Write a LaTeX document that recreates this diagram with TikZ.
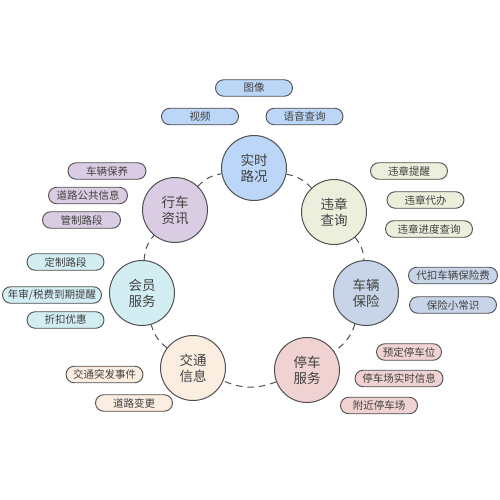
\documentclass[tikz,border=0pt]{standalone}
\usepackage{fontspec}
\setmainfont{Noto Sans CJK SC}
\usetikzlibrary{shapes.misc}
\definecolor{cblue}{HTML}{BBD6F6}
\definecolor{cgreen}{HTML}{EDEFDD}
\definecolor{cslate}{HTML}{C8D5E8}
\definecolor{cpink}{HTML}{F1D2D2}
\definecolor{ccream}{HTML}{FCEDE1}
\definecolor{ccyan}{HTML}{D3EEF3}
\definecolor{clav}{HTML}{DACDE3}
\definecolor{cline}{HTML}{505050}
\definecolor{ctext}{HTML}{404040}
\tikzset{
  hub/.style={circle, draw=cline, line width=1pt, minimum size=65pt, inner sep=0pt,
    align=center, text=ctext, font=\fontsize{13.5}{16}\selectfont},
  pill/.style={rounded rectangle, draw=cline, line width=0.9pt, minimum height=16.5pt,
    inner sep=1pt, text=ctext, font=\fontsize{10.5}{12}\selectfont},
  ring/.style={draw=cline, line width=1pt, dash pattern=on 6.5pt off 5pt},
}
\begin{document}
\begin{tikzpicture}[x=1pt,y=-1pt]
\useasboundingbox (0,0) rectangle (500,500);
\fill[white] (0,0) rectangle (500,500);
% hubs
\node[hub, fill=cblue]  (A) at (254,168) {实时\\路况};
\node[hub, fill=cgreen] (B) at (334,212) {违章\\查询};
\node[hub, fill=cslate] (C) at (366,293) {车辆\\保险};
\node[hub, fill=cpink]  (D) at (307,370) {停车\\服务};
\node[hub, fill=ccream] (E) at (193,368) {交通\\信息};
\node[hub, fill=ccyan]  (F) at (142,293) {会员\\服务};
\node[hub, fill=clav]   (G) at (175,210) {行车\\资讯};
% ring connectors
\draw[ring] (A) to[bend left=18] (B);
\draw[ring] (B) to[bend left=18] (C);
\draw[ring] (C) to[bend left=18] (D);
\draw[ring] (D) to[bend left=22] (E);
\draw[ring] (E) to[bend left=18] (F);
\draw[ring] (F) to[bend left=18] (G);
\draw[ring] (G) to[bend left=18] (A);
% top pills
\node[pill, fill=cblue, minimum width=79pt] (a1) at (254,88) {图像};
\node[pill, fill=cblue, minimum width=79pt] (a2) at (200,116.5) {视频};
\node[pill, fill=cblue, minimum width=79pt] (a3) at (304.5,116.5) {语音查询};
% right pills
\node[pill, fill=cgreen, minimum width=79pt] (b1) at (409,171) {违章提醒};
\node[pill, fill=cgreen, minimum width=79pt] (b2) at (425.5,200) {违章代办};
\node[pill, fill=cgreen, minimum width=89pt] (b3) at (429,229) {违章进度查询};
\node[pill, fill=cslate, minimum width=91pt] (c1) at (453,275.5) {代扣车辆保险费};
\node[pill, fill=cslate, minimum width=89pt] (c2) at (453,305) {保险小常识};
% bottom right pills
\node[pill, fill=cpink, minimum width=67pt] (d1) at (409,352) {预定停车位};
\node[pill, fill=cpink, minimum width=90pt] (d2) at (399,378.5) {停车场实时信息};
\node[pill, fill=cpink, minimum width=79pt] (d3) at (379,405.5) {附近停车场};
% bottom left pills
\node[pill, fill=ccream, minimum width=79pt] (e1) at (104.5,374.5) {交通突发事件};
\node[pill, fill=ccream, minimum width=79pt] (e2) at (134,403) {道路变更};
% left pills
\node[pill, fill=ccyan, minimum width=79pt] (f1) at (65.5,262) {定制路段};
\node[pill, fill=ccyan, minimum width=101pt] (f2) at (52,295) {年审/税费到期提醒};
\node[pill, fill=ccyan, minimum width=79pt] (f3) at (65.5,320) {折扣优惠};
\node[pill, fill=clav, minimum width=80pt] (g1) at (107,171) {车辆保养};
\node[pill, fill=clav, minimum width=81pt] (g2) at (88,195.5) {道路公共信息};
\node[pill, fill=clav, minimum width=80pt] (g3) at (81.5,220) {管制路段};
\end{tikzpicture}
\end{document}
